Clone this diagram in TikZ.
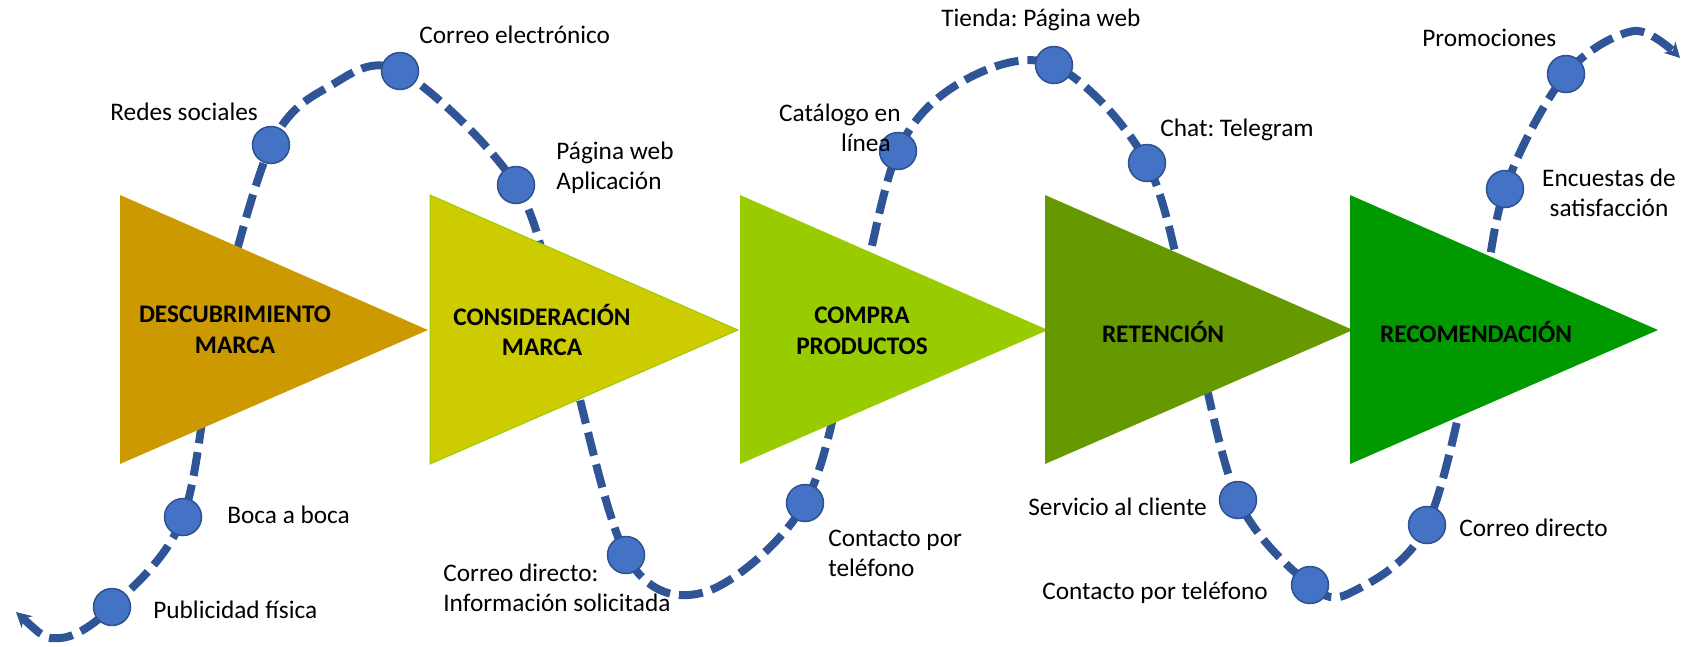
\documentclass[tikz,border=0pt]{standalone}
\usepackage{fontspec}
\setmainfont{Carlito}
\usetikzlibrary{arrows.meta}
\frenchspacing
\definecolor{stageA}{HTML}{CC9900}
\definecolor{stageB}{HTML}{CCCC00}
\definecolor{stageBline}{HTML}{99CC00}
\definecolor{stageC}{HTML}{99CC00}
\definecolor{stageD}{HTML}{669900}
\definecolor{stageE}{HTML}{009900}
\definecolor{pathBlue}{HTML}{2F5597}
\definecolor{touchFill}{HTML}{4472C4}
\definecolor{touchLine}{HTML}{2F528F}
\tikzset{
  stage/.style = {fill=#1, draw=none},
  stageText/.style = {font=\fontsize{14.4}{17.4}\selectfont\bfseries, align=center},
  journey/.style = {color=#1, line width=0.16cm, dash pattern=on 0.48cm off 0.18cm,
    {Stealth[length=0.3cm,width=0.32cm]}-{Stealth[length=0.3cm,width=0.32cm]}},
  touch/.style = {circle, fill=touchFill, draw=touchLine, line width=0.03cm, minimum size=0.74cm},
  channel/.style = {align=#1}
}
\newcommand{\touchPoint}[2]{%
  % #1: csomópont neve
  % #2: koordináta
  \node[touch] (#1) at (#2) {};
}

\begin{document}
\begin{tikzpicture}[x=0.02cm, y=-0.02cm,
  every node/.style={font=\fontsize{14.4}{17.2}\selectfont, inner sep=0pt}]
    \useasboundingbox (0,0) rectangle (1686,646);

    %==== Coordinates ====
    \coordinate (pub)   at (112,607);
    \coordinate (boca)  at (183,517);
    \coordinate (redes) at (271,145);
    \coordinate (email) at (400,71);
    \coordinate (web)   at (516,185);
    \coordinate (mail)  at (626,555);
    \coordinate (tel)   at (805,503);
    \coordinate (cat)   at (898,151);
    \coordinate (shop)  at (1054,65);
    \coordinate (chat)  at (1147,163);
    \coordinate (serv)  at (1238,500);
    \coordinate (tel2)  at (1310,585);
    \coordinate (mail2) at (1427,525);
    \coordinate (surv)  at (1505,189);
    \coordinate (promo) at (1566,74);

    %==== Journey path ====
    \draw[journey={pathBlue}] plot[smooth, tension=0.55] coordinates {
        (16,612) (60,638) (pub) (boca) (217,330) (redes) (330,86) (email)
        (web) (562,330) (mail) (705,592) (tel) (853,330) (cat) (965,80)
        (shop) (chat) (1193,330) (serv) (tel2) (1352,592) (mail2) (1477,330)
        (surv) (promo) (1634,31) (1680,58)};

    %==== Stages ====
    % Body
    \fill[stage={stageA}] (120,195) -- (428,330) -- (120,464) -- cycle;
    \filldraw[stage={stageB}, draw=stageBline, line width=0.02cm] (430,195) -- (738,330) -- (430,464) -- cycle;
    \fill[stage={stageC}] (740,195) -- (1048,330) -- (740,464) -- cycle;
    \fill[stage={stageD}] (1045,195) -- (1353,330) -- (1045,464) -- cycle;
    \fill[stage={stageE}] (1350,195) -- (1658,330) -- (1350,464) -- cycle;

    % Labels
    \node[stageText] (descubrimiento) at (235,330) {DESCUBRIMIENTO\\MARCA};
    \node[stageText] (consideracion) at (542,330) {CONSIDERACIÓN\\MARCA};
    \node[stageText] (compra) at (862,331) {COMPRA\\PRODUCTOS};
    \node[stageText] (retencion) at (1163,332) {RETENCIÓN};
    \node[stageText] (recomendacion) at (1476,332) {RECOMENDACIÓN};

    %==== Touch points ====
    \touchPoint{nPub}{pub}
    \touchPoint{nBoca}{boca}
    \touchPoint{nRedes}{redes}
    \touchPoint{nEmail}{email}
    \touchPoint{nWeb}{web}
    \touchPoint{nMail}{mail}
    \touchPoint{nTel}{tel}
    \touchPoint{nCat}{cat}
    \touchPoint{nShop}{shop}
    \touchPoint{nChat}{chat}
    \touchPoint{nServ}{serv}
    \touchPoint{nTel2}{tel2}
    \touchPoint{nMail2}{mail2}
    \touchPoint{nSurv}{surv}
    \touchPoint{nPromo}{promo}

    % Labels
    \node[anchor=west] (lPub) at (153,610) {Publicidad física};
    \node[anchor=west] (lBoca) at (227,515) {Boca a boca};
    \node[anchor=west] (lRedes) at (110,112) {Redes sociales};
    \node[anchor=west] (lEmail) at (419,35) {Correo electrónico};
    \node[anchor=west, channel=left] (lWeb) at (556,168) {Página web\\Aplicación};
    \node[anchor=west, channel=left] (lMail) at (443,588) {Correo directo:\\Información solicitada};
    \node[anchor=west, channel=left] (lTel) at (828,553) {Contacto por\\teléfono};
    \node[anchor=east, channel=right] (lCat) at (901,128) {Catálogo en\\línea\hspace*{0.2cm}};
    \node[anchor=west] (lShop) at (941,20) {Tienda: Página web};
    \node[anchor=west] (lChat) at (1160,130) {Chat: Telegram};
    \node[anchor=west] (lServ) at (1028,507) {Servicio al cliente};
    \node[anchor=west] (lTel2) at (1042,593) {Contacto por teléfono};
    \node[anchor=west] (lMail2) at (1459,528) {Correo directo};
    \node[channel=center] (lSurv) at (1609,193) {Encuestas de\\satisfacción};
    \node[anchor=west] (lPromo) at (1422,38) {Promociones};
\end{tikzpicture}
\end{document}
